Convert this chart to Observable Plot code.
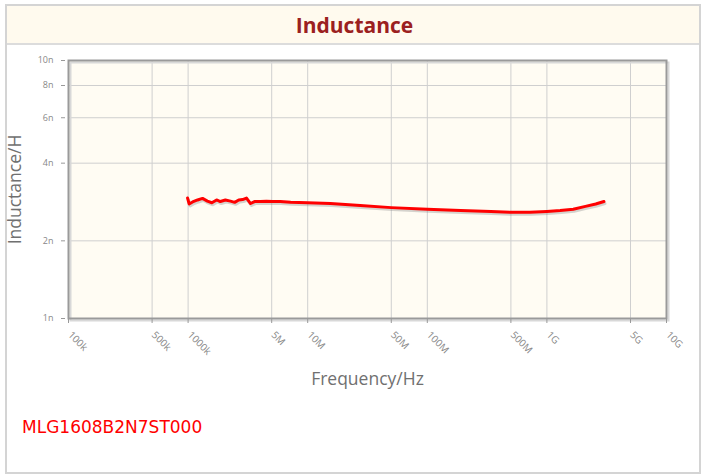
<!DOCTYPE html>
<html><head><meta charset="utf-8">
<script src="https://cdn.jsdelivr.net/npm/d3@7"></script>
<script src="https://cdn.jsdelivr.net/npm/@observablehq/plot@0.6"></script>
<style>
html,body{margin:0;padding:0;background:#fff;width:701px;height:474px;overflow:hidden;}
#box{position:absolute;left:5px;top:4px;width:692px;height:466px;border:2px solid #d4d4d4;}
#title{position:absolute;left:0;top:0;width:692px;height:39px;background:#fffaee;border-bottom:2px solid #dcdcdc;
 text-align:center;font:700 21px "Open Sans",sans-serif;color:#9b2020;line-height:39px;padding-left:3px;box-sizing:border-box;}
#chart{position:absolute;left:6px;top:47px;}
#legend{position:absolute;left:22px;top:417px;font:17px "DejaVu Sans",sans-serif;color:#ff0000;}
#chart svg{overflow:visible;}
g[aria-label="x-axis label"] text, g[aria-label="y-axis label"] text{font-size:17.5px;fill:#707070;font-family:"Open Sans",sans-serif;}
</style></head><body>
<div id="box"><div id="title">Inductance</div></div>
<div id="chart"></div>
<div id="legend">MLG1608B2N7ST000</div>
<script>
const seriesName = "MLG1608B2N7ST000";
const freqHz = [0.99e6,1.02e6,1.09e6,1.20e6,1.32e6,1.45e6,1.58e6,1.73e6,1.86e6,2.05e6,2.26e6,2.45e6,2.65e6,2.85e6,3.08e6,3.33e6,3.59e6,4.03e6,4.51e6,5.1e6,5.9e6,7.2e6,10e6,15.5e6,27.5e6,50e6,100e6,190e6,340e6,500e6,720e6,1.0e9,1.29e9,1.66e9,2.1e9,2.56e9,3.0e9];
const inductanceNH = [2.93,2.78,2.83,2.88,2.92,2.85,2.81,2.88,2.84,2.88,2.85,2.82,2.88,2.89,2.93,2.79,2.84,2.84,2.85,2.84,2.84,2.82,2.81,2.79,2.74,2.69,2.65,2.62,2.60,2.58,2.58,2.60,2.62,2.65,2.72,2.78,2.84];
const xTicks = [1e5,5e5,1e6,5e6,1e7,5e7,1e8,5e8,1e9,5e9,1e10];
const xTickLabels = ["100k","500k","1000k","5M","10M","50M","100M","500M","1G","5G","10G"];
const yTicks = [1,2,4,6,8,10];
const yTickLabels = ["1n","2n","4n","6n","8n","10n"];

const data = freqHz.map((f,i)=>({f, L: inductanceNH[i]}));
const xl = new Map(xTicks.map((t,i)=>[t,xTickLabels[i]]));
const yl = new Map(yTicks.map((t,i)=>[t,yTickLabels[i]]));

const chart = Plot.plot({
  width: 694, height: 353,
  marginLeft: 62, marginRight: 34, marginTop: 13, marginBottom: 82,
  style: {background: "transparent", fontFamily: "'Open Sans', sans-serif"},
  x: {type: "log", domain: [1e5, 1e10]},
  y: {type: "log", domain: [1, 10]},
  marks: [
    Plot.frame({fill: "#fffcf3", stroke: null}),
    Plot.gridX(xTicks, {stroke: "#cfcfcf", strokeOpacity: 1, strokeWidth: 1}),
    Plot.gridY(yTicks, {stroke: "#cfcfcf", strokeOpacity: 1, strokeWidth: 1}),
    Plot.frame({stroke: "#d8d8d8", strokeWidth: 2, dx: 2, dy: 2}),
    Plot.frame({stroke: "#9a9a9a", strokeWidth: 2}),
    Plot.axisX(xTicks, {tickFormat: () => "", tickSize: 5, color: "#999",
      label: "Frequency/Hz", labelAnchor: "center", labelArrow: "none", labelOffset: 66}),
    Plot.axisY(yTicks, {tickFormat: () => "", tickSize: 4, dx: -3, color: "#999",
      label: "Inductance/H", labelAnchor: "center", labelArrow: "none", labelOffset: 60}),
    Plot.text(xTicks, {x: d => d, frameAnchor: "bottom", text: d => xl.get(d), rotate: 45, textAnchor: "start",
      dx: -1, dy: 17, fontSize: 10, fill: "#888"}),
    Plot.text(yTicks, {y: d => d, frameAnchor: "left", text: d => yl.get(d), textAnchor: "end",
      dx: -15, fontSize: 9, fill: "#888"}),
    Plot.line(data, {x: "f", y: "L", stroke: "#888", strokeOpacity: 0.35, strokeWidth: 3, dx: 1, dy: 2}),
    Plot.line(data, {x: "f", y: "L", stroke: "#ff0000", strokeWidth: 3, strokeLinejoin: "round"})
  ]
});
document.getElementById("chart").appendChild(chart);
</script>
</body></html>
